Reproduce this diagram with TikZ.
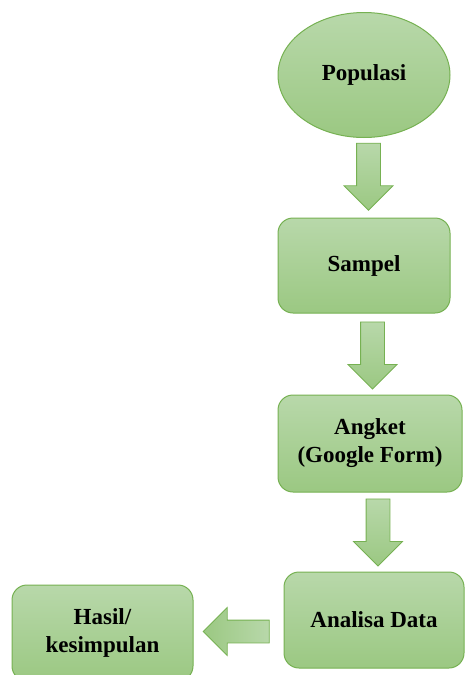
\documentclass[tikz,border=0pt]{standalone}
\usepackage{fontspec}
\setmainfont{Liberation Serif}
\usetikzlibrary{shapes.geometric,shapes.arrows,calc}
\definecolor{stagetop}{RGB}{184,216,170}
\definecolor{stagebot}{RGB}{155,200,130}
\definecolor{stageline}{RGB}{118,177,82}
\tikzset{
  stage/.style={draw=stageline, line width=1pt, top color=stagetop, bottom color=stagebot,
    font=\fontsize{23}{28}\selectfont\bfseries, align=center, inner sep=0pt},
  stagebox/.style={stage, rectangle, rounded corners=15pt},
  flowarrow/.style={single arrow, draw=stageline, line width=0.8pt,
    minimum width=48pt, single arrow head extend=12.5pt, minimum height=67pt,
    single arrow tip angle=90, single arrow head indent=0pt},
  downarrow/.style={flowarrow, inner xsep=11.5pt, inner ysep=0pt, shape border rotate=270,
    top color=stagetop, bottom color=stagebot},
  leftarrow/.style={flowarrow, inner xsep=0pt, inner ysep=11pt, shape border rotate=180,
    left color=stagebot, right color=stagetop}
}
\begin{document}
\begin{tikzpicture}[x=1pt,y=1pt,yscale=-1,xscale=1]
\useasboundingbox (0,0) rectangle (466,675);

%Shape: Ellipse
\node[stage, ellipse, minimum width=172pt, minimum height=125pt] (pop) at (364,75) {Populasi};
%Rounded Rect
\node[stagebox, minimum width=172pt, minimum height=95pt] (sampel) at (364,265.5) {Sampel};
%Rounded Rect
\node[stagebox, minimum width=184pt, minimum height=97pt] (angket) at (370,443.5) {Angket\\(Google Form)};
%Rounded Rect
\node[stagebox, minimum width=180pt, minimum height=96pt] (analisa) at (374,620) {Analisa Data};
%Rounded Rect
\node[stagebox, minimum width=181pt, minimum height=96pt] (hasil) at (102.5,633) {Hasil/\\kesimpulan};

%Block arrows
\node[downarrow] (a1) at ($(pop.south)!0.5!(sampel.north)+(4.5,-7)$) {};
\node[downarrow] (a2) at ($(sampel.south)!0.5!(angket.north)+(5.5,-4.5)$) {};
\node[downarrow] (a3) at ($(angket.south)!0.5!(analisa.north)+(6,-5.5)$) {};
\node[leftarrow, minimum width=47pt, minimum height=66pt] (a4) at ($(analisa.west)!0.5!(hasil.east)+(3.5,5)$) {};

\end{tikzpicture}
\end{document}
